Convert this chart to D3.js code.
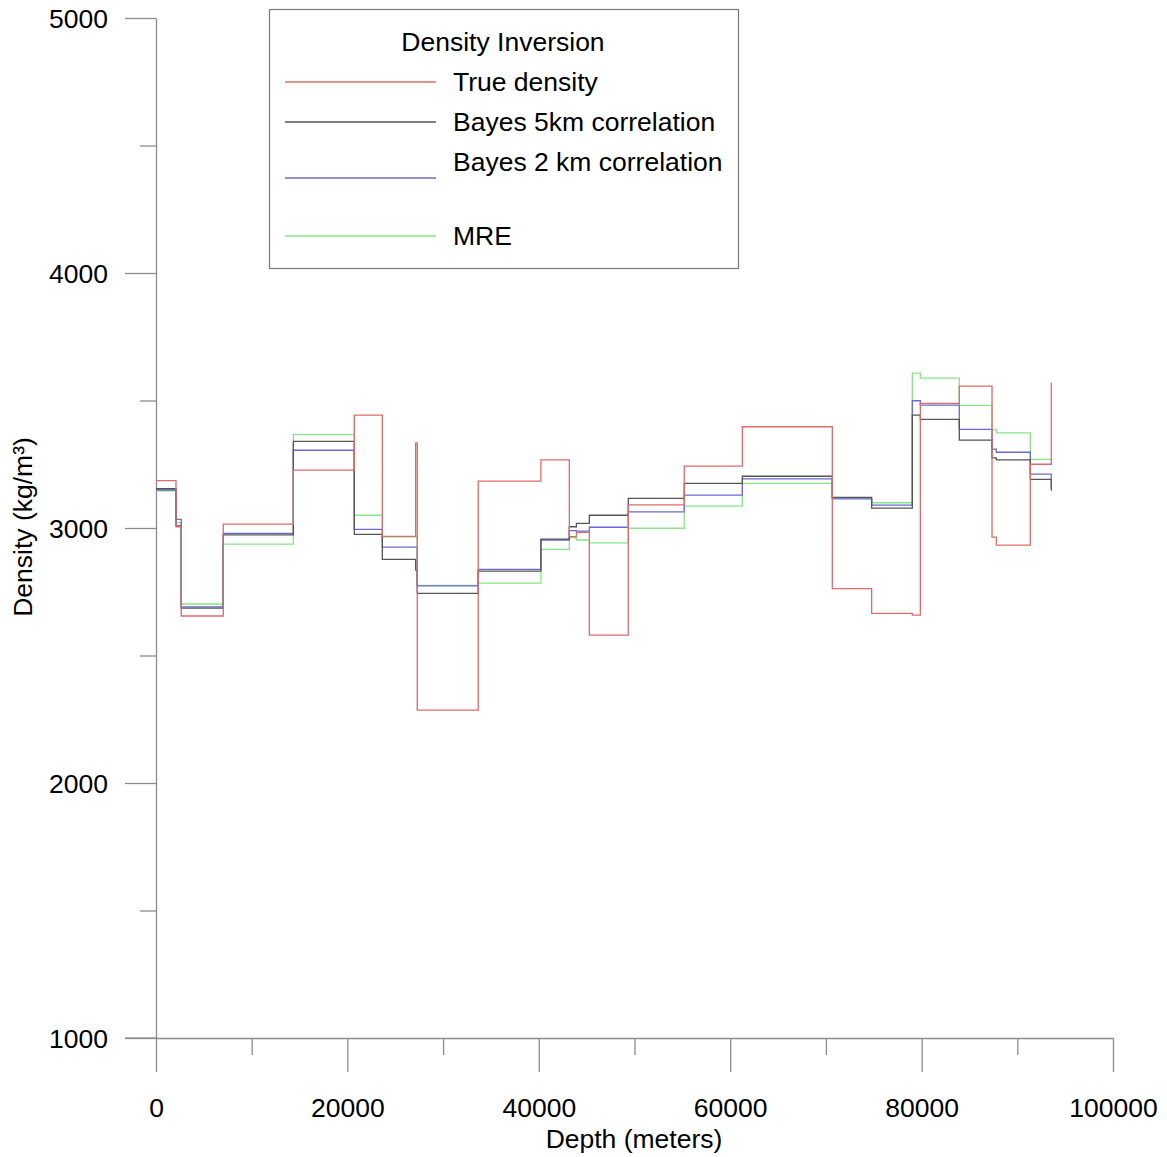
<!DOCTYPE html>
<html>
<head>
<meta charset="utf-8">
<script src="https://cdn.jsdelivr.net/npm/d3@7"></script>
<style>
  body { margin: 0; background: #fff; }
  text { font-family: "Liberation Sans", Arial, sans-serif; fill: #000; }
</style>
</head>
<body>
<div id="graph"></div>
<script>
// Segment start depths (meters), last entry is where the profiles end
var depthBreaks = [0, 2090, 2640, 7030, 14350, 20720, 23650, 27130, 27300, 33670, 40220, 43190, 43930,
  45280, 49350, 55200, 61270, 70670, 74780, 79030, 79870, 83940, 87360, 87810, 91360, 93550];

// Density of each segment (kg/m3), the last value is the end point of the line
var trueDensity = [3186, 3005, 2655, 3015, 3227, 3443, 2967, 3334, 2286, 3184, 3267, 2966, 2983,
  2580, 3091, 3243, 3397, 2762, 2665, 2658, 3489, 3556, 2964, 2933, 3250, 3570];
var bayes5km = [3154, 3008, 2686, 2973, 3340, 2975, 2877, 2835, 2744, 2831, 2956, 3005, 3018,
  3050, 3116, 3175, 3203, 3120, 3078, 3443, 3426, 3345, 3275, 3267, 3191, 3146];
var bayes2km = [3149, 3034, 2691, 2979, 3305, 2995, 2925, 2925, 2773, 2838, 2953, 2990, 2988,
  3003, 3063, 3129, 3193, 3114, 3090, 3499, 3482, 3387, 3309, 3297, 3211, 3160];
var mre = [3146, 3021, 2702, 2937, 3366, 3050, 2965, 2965, 2775, 2784, 2916, 2962, 2953,
  2942, 2999, 3086, 3175, 3116, 3099, 3607, 3588, 3481, 3386, 3373, 3269, 3269];

var seriesNames = ['True density', 'Bayes 5km correlation', 'Bayes 2 km correlation', 'MRE'];
var seriesColors = ['#e06a6a', '#555555', '#6a6ad4', '#88e488'];
var xTicks = [0, 20000, 40000, 60000, 80000, 100000];
var yTicks = [1000, 2000, 3000, 4000, 5000];

var svgWidth = 1167;
var svgHeight = 1157;
var axisColor = '#8c8c8c';

var svg = d3.select('#graph')
  .append('svg')
  .attr('width', svgWidth)
  .attr('height', svgHeight);

// scales
var x = d3.scaleLinear().domain([0, 100000]).range([156, 1113]);
var y = d3.scaleLinear().domain([1000, 5000]).range([1038, 18]);

// y axis: minor ticks then major with labels
svg.append('g')
  .attr('transform', 'translate(156,0)')
  .call(d3.axisLeft(y).tickValues(d3.range(1500, 5000, 1000)).tickSize(16).tickFormat(''))
  .call(function (g) { g.select('.domain').remove(); });

var yAxis = svg.append('g')
  .attr('transform', 'translate(156,0)')
  .call(d3.axisLeft(y).tickValues(yTicks).tickSize(31).tickPadding(17).tickSizeOuter(0).tickFormat(d3.format('d')));

// x axis
svg.append('g')
  .attr('transform', 'translate(0,1038)')
  .call(d3.axisBottom(x).tickValues(d3.range(10000, 100000, 20000)).tickSize(17).tickFormat(''))
  .call(function (g) { g.select('.domain').remove(); });

var xAxis = svg.append('g')
  .attr('transform', 'translate(0,1038)')
  .call(d3.axisBottom(x).tickValues(xTicks).tickSize(34).tickSizeOuter(0).tickFormat(d3.format('d')));

xAxis.selectAll('text').attr('y', 79).attr('dy', null);

svg.selectAll('.domain, .tick line')
  .attr('stroke', axisColor)
  .attr('stroke-width', 1.3);

svg.selectAll('.tick text')
  .style('font-size', '26.5px')
  .attr('fill', '#000');

yAxis.selectAll('text').attr('dy', '0.35em');

// x axis line reaches to the end of the 1000 tick
svg.append('line')
  .attr('x1', 125).attr('x2', 156)
  .attr('y1', 1038).attr('y2', 1038)
  .attr('stroke', axisColor).attr('stroke-width', 1.3);

// axis titles
svg.append('text')
  .attr('x', 634).attr('y', 1148)
  .attr('text-anchor', 'middle')
  .style('font-size', '26.5px')
  .text('Depth (meters)');

svg.append('text')
  .attr('transform', 'translate(32,527) rotate(-90)')
  .attr('text-anchor', 'middle')
  .style('font-size', '26.5px')
  .text('Density (kg/m³)');

// step lines
var line = d3.line()
  .x(function (d) { return x(d[0]); })
  .y(function (d) { return y(d[1]); })
  .curve(d3.curveStepAfter);

var allSeries = [trueDensity, bayes5km, bayes2km, mre];

// draw red last so it sits on top like the original
[3, 2, 1, 0].forEach(function (k) {
  var pts = depthBreaks.map(function (dep, i) { return [dep, allSeries[k][i]]; });
  svg.append('path')
    .datum(pts)
    .attr('d', line)
    .attr('fill', 'none')
    .attr('stroke', seriesColors[k])
    .attr('stroke-width', 1.3);
});

// legend
var legend = svg.append('g');

legend.append('rect')
  .attr('x', 269.5).attr('y', 9.5)
  .attr('width', 469).attr('height', 259)
  .attr('fill', '#fff')
  .attr('stroke', '#7a7a7a')
  .attr('stroke-width', 1.2);

legend.append('text')
  .attr('x', 503).attr('y', 51)
  .attr('text-anchor', 'middle')
  .style('font-size', '26.5px')
  .text('Density Inversion');

var legendLineY = [82, 122, 178, 236];
var legendTextY = [91, 131, 171, 245];

seriesNames.forEach(function (name, i) {
  legend.append('line')
    .attr('x1', 285).attr('x2', 436)
    .attr('y1', legendLineY[i]).attr('y2', legendLineY[i])
    .attr('stroke', seriesColors[i])
    .attr('stroke-width', 1.3);
  legend.append('text')
    .attr('x', 453).attr('y', legendTextY[i])
    .style('font-size', '26.5px')
    .text(name);
});
</script>
</body>
</html>
